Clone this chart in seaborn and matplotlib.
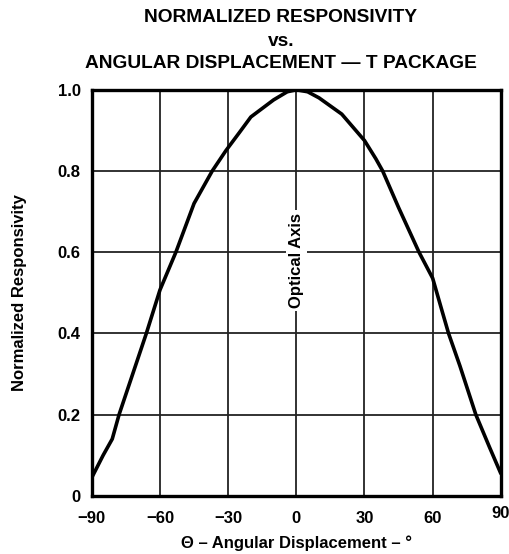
import numpy as np
import pandas as pd
import matplotlib
matplotlib.use("Agg")
import matplotlib.pyplot as plt
import matplotlib.transforms as mtransforms
import seaborn as sns

# values
angle = [-90, -85, -81, -78, -72, -66, -60, -53, -45, -37, -31, -25, -20, -10, -4, 0,
         5, 10, 20, 30, 35, 38, 45, 54, 60, 64, 67, 72, 79, 85, 90]
responsivity = [0.045, 0.10, 0.14, 0.20, 0.30, 0.40, 0.507, 0.60, 0.72, 0.80, 0.85, 0.895,
                0.933, 0.975, 0.995, 1.0, 0.995, 0.98, 0.94, 0.875, 0.83, 0.80, 0.71, 0.60,
                0.536, 0.458, 0.40, 0.32, 0.20, 0.12, 0.055]
x_ticks = [-90, -60, -30, 0, 30, 60, 90]
y_ticks = [0, 0.2, 0.4, 0.6, 0.8, 1.0]
y_tick_labels = ["0", "0.2", "0.4", "0.6", "0.8", "1.0"]

df = pd.DataFrame({"angle": angle, "resp": responsivity})

sns.set_style("white")
plt.rcParams["font.family"] = ["Liberation Sans", "DejaVu Sans"]
plt.rcParams["font.weight"] = "bold"
plt.rcParams["text.color"] = "black"
plt.rcParams["axes.labelcolor"] = "black"
plt.rcParams["xtick.color"] = "black"
plt.rcParams["ytick.color"] = "black"

fig = plt.figure(figsize=(5.10, 5.54), dpi=100)
ax = fig.add_axes([0.180, 0.105, 0.802, 0.733])

sns.lineplot(data=df, x="angle", y="resp", color="black", linewidth=2.6, ax=ax)

ax.set_xlim(-90, 90)
ax.set_ylim(0, 1.0)
ax.set_xticks(x_ticks)
ax.set_xticklabels([str(t).replace("-", "\u2212") for t in x_ticks], fontsize=12, fontweight="bold")
ax.set_yticks(y_ticks)
ax.set_yticklabels(y_tick_labels, fontsize=12, fontweight="bold")
ax.tick_params(axis="x", length=0, pad=11)
ax.tick_params(axis="y", length=0, pad=8)
ax.grid(True, color="#222222", linewidth=1.3)
for s in ax.spines.values():
    s.set_color("black")
    s.set_linewidth(2.4)

# the "90" label sits a touch higher in the reference
lab = ax.get_xticklabels()[-1]
lab.set_transform(lab.get_transform() + mtransforms.ScaledTranslation(0, 4 / 72, fig.dpi_scale_trans))

ax.set_xlabel("\u0398 \u2013 Angular Displacement \u2013 \u00b0", fontsize=12, fontweight="bold", labelpad=7)
ax.set_ylabel("Normalized Responsivity", fontsize=12, fontweight="bold", labelpad=22)

ax.text(0, 0.58, "Optical Axis", rotation=90, ha="center", va="center", fontsize=12,
        fontweight="bold", bbox=dict(facecolor="white", edgecolor="none", pad=2))

fig.text(0.551, 0.968, "NORMALIZED RESPONSIVITY", ha="center", va="center", fontsize=13.8, fontweight="bold")
fig.text(0.551, 0.925, "vs.", ha="center", va="center", fontsize=13.8, fontweight="bold")
fig.text(0.551, 0.886, "ANGULAR DISPLACEMENT \u2014 T PACKAGE", ha="center", va="center", fontsize=13.8, fontweight="bold")

fig.savefig("out.png", dpi=100)
